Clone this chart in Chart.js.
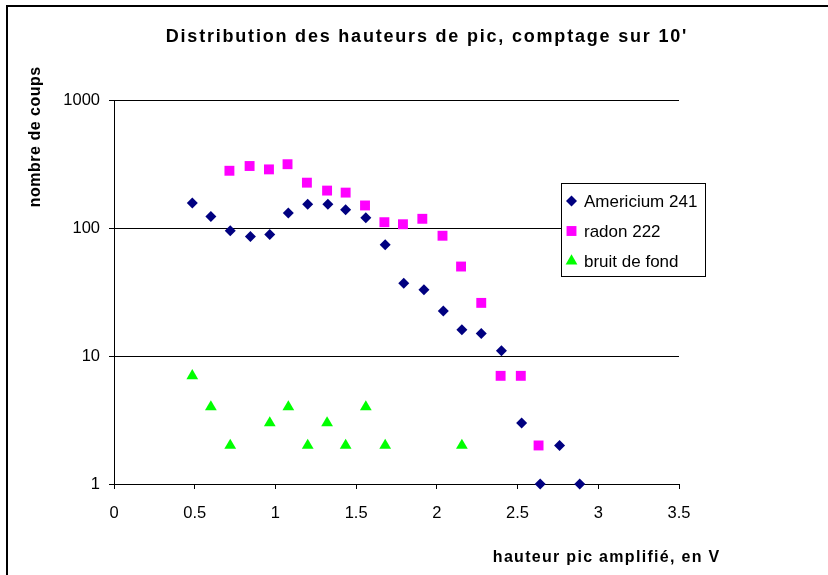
<!DOCTYPE html>
<html lang="fr">
<head>
    <meta charset="UTF-8">
    <script src="https://cdn.jsdelivr.net/npm/chart.js"></script>
    <style>
        body { margin: 0; background: #fff; }
        canvas { display: block; }
    </style>
</head>
<body>
    <canvas id="chart" width="828" height="575"></canvas>

    <script>
        // hauteur de pic (V) et nombre de coups
        const xAmericium = [0.485, 0.6, 0.72, 0.845, 0.965, 1.08, 1.2, 1.325, 1.435, 1.56, 1.68, 1.795, 1.92, 2.04, 2.155, 2.275, 2.4, 2.525, 2.64, 2.76, 2.885];
        const americium = [157, 123, 95, 86, 89, 131, 153, 153, 139, 120, 74, 37, 33, 22.5, 16, 15, 11, 3, 1, 2, 1];

        const xRadon = [0.715, 0.84, 0.96, 1.075, 1.195, 1.32, 1.435, 1.555, 1.675, 1.79, 1.91, 2.035, 2.15, 2.275, 2.395, 2.52, 2.63];
        const radon = [280, 305, 287, 315, 226, 196, 189, 150, 111, 107, 118, 87, 50, 26, 7, 7, 2];

        const xBruit = [0.485, 0.6, 0.72, 0.965, 1.08, 1.2, 1.32, 1.435, 1.56, 1.68, 2.155];
        const bruit = [7, 4, 2, 3, 4, 2, 3, 2, 4, 2, 2];

        const yTicks = [1, 10, 100, 1000];
        const seriesNames = ['Americium 241', 'radon 222', 'bruit de fond'];

        const FONT = "'Liberation Sans', Arial, sans-serif";
        Chart.defaults.font.family = FONT;
        Chart.defaults.color = '#000';

        const toPoints = (xs, ys) => xs.map((x, i) => ({ x: x, y: ys[i] }));

        // texte centré avec un léger espacement (comme Excel)
        function spacedText(c, text, x, y, spacing) {
            c.letterSpacing = spacing + 'px';
            c.fillText(text, x + spacing / 2, y);
            c.letterSpacing = '0px';
        }

        const frame = {
            id: 'frame',
            beforeDraw(chart) {
                const c = chart.ctx;
                c.save();
                c.fillStyle = '#fff';
                c.fillRect(0, 0, chart.width, chart.height);
                c.fillStyle = '#000';
                c.fillRect(6, 5, chart.width, 2);
                c.fillRect(6, 5, 2, chart.height);
                c.restore();
            },
            afterDraw(chart) {
                const c = chart.ctx;
                c.save();
                c.fillStyle = '#000';
                c.textAlign = 'center';
                c.textBaseline = 'alphabetic';

                c.font = 'bold 18px ' + FONT;
                spacedText(c, "Distribution des hauteurs de pic, comptage sur 10'", 426, 42, 1.8);

                c.font = 'bold 16px ' + FONT;
                spacedText(c, 'hauteur pic amplifié, en V', 606, 562, 1.3);

                c.save();
                c.translate(40, 137);
                c.rotate(-Math.PI / 2);
                spacedText(c, 'nombre de coups', 0, 0, 0.5);
                c.restore();

                // légende
                c.fillStyle = '#fff';
                c.fillRect(561, 183, 145, 94);
                c.strokeStyle = '#000';
                c.lineWidth = 1;
                c.strokeRect(561.5, 183.5, 144, 93);

                c.textAlign = 'left';
                c.textBaseline = 'middle';
                c.font = '17px ' + FONT;
                chart.data.datasets.forEach((ds, i) => {
                    const y = 201 + i * 30;
                    c.fillStyle = ds.backgroundColor;
                    Chart.helpers.drawPoint(c, {
                        pointStyle: ds.pointStyle,
                        radius: ds.pointRadius,
                        borderWidth: 0,
                        rotation: 0
                    }, 571.5, y);
                    c.fillStyle = '#000';
                    c.fillText(ds.label, 584, y + 1);
                });
                c.restore();
            }
        };

        const chart = new Chart(document.getElementById('chart'), {
            type: 'scatter',
            data: {
                datasets: [{
                    label: seriesNames[0],
                    data: toPoints(xAmericium, americium),
                    pointStyle: 'rectRot',
                    pointRadius: 5.5,
                    backgroundColor: '#000080',
                    borderWidth: 0,
                    clip: false,
                    order: 3
                }, {
                    label: seriesNames[1],
                    data: toPoints(xRadon, radon),
                    pointStyle: 'rect',
                    pointRadius: 7,
                    backgroundColor: '#ff00ff',
                    borderWidth: 0,
                    clip: false,
                    order: 2
                }, {
                    label: seriesNames[2],
                    data: toPoints(xBruit, bruit),
                    pointStyle: 'triangle',
                    pointRadius: 6.8,
                    backgroundColor: '#00ff00',
                    borderWidth: 0,
                    clip: false,
                    order: 1
                }]
            },
            options: {
                responsive: false,
                animation: false,
                devicePixelRatio: 1,
                layout: { padding: { left: 0, top: 100, right: 149, bottom: 51 } },
                plugins: {
                    legend: { display: false },
                    title: { display: false },
                    tooltip: { enabled: false }
                },
                scales: {
                    x: {
                        type: 'linear',
                        min: 0,
                        max: 3.5,
                        afterFit: (s) => { s.height = 40; },
                        ticks: { stepSize: 0.5, font: { size: 16.5 }, padding: 15, maxRotation: 0, callback: (v) => String(v) },
                        grid: { drawOnChartArea: false, drawTicks: true, tickLength: 5, color: '#000' },
                        border: { display: true, color: '#000' }
                    },
                    y: {
                        type: 'logarithmic',
                        min: 1,
                        max: 1000,
                        afterFit: (s) => { s.width = 114; },
                        afterBuildTicks: (s) => { s.ticks = yTicks.map(v => ({ value: v })); },
                        ticks: { font: { size: 16.5 }, padding: 9, callback: (v) => String(v) },
                        grid: { drawOnChartArea: true, drawTicks: true, tickLength: 5, color: '#000' },
                        border: { display: true, color: '#000' }
                    }
                }
            },
            plugins: [frame]
        });
    </script>
</body>
</html>
